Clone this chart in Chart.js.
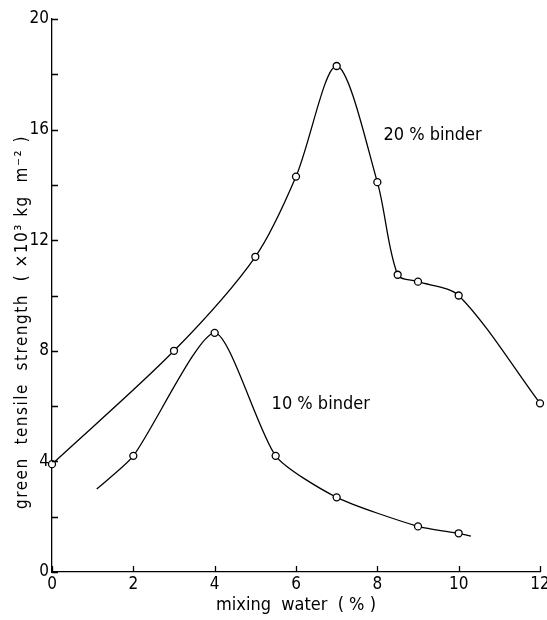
<!DOCTYPE html>
<html>
<head>
<meta charset="utf-8">
<script src="https://cdn.jsdelivr.net/npm/chart.js@4.4.0/dist/chart.umd.min.js"></script>
<style>
    html, body { margin: 0; padding: 0; background: #fff; }
    #wrap { width: 547px; height: 620px; }
</style>
</head>
<body>
<div id="wrap"><canvas id="realtimeChart" width="547" height="620"></canvas></div>
<script>
// 20 % binder
const water20 = [0, 3, 5, 6, 7, 8, 8.5, 9, 10, 12];
const strength20 = [3.9, 8.0, 11.4, 14.3, 18.3, 14.1, 10.75, 10.5, 10.0, 6.1];
// 10 % binder (first/last are only the curve ends, no marker)
const water10 = [1.1, 2, 4, 5.5, 7, 9, 10, 10.3];
const strength10 = [3.0, 4.2, 8.65, 4.2, 2.7, 1.65, 1.4, 1.3];
const marker10 = [false, true, true, true, true, true, true, false];

const xTicks = [0, 2, 4, 6, 8, 10, 12];
const yLabelled = [0, 4, 8, 12, 16, 20];

const FONT = "'Liberation Sans Narrow', 'DejaVu Sans Condensed', 'Liberation Sans', sans-serif";

function toPoints(xs, ys) {
    return xs.map((x, i) => ({ x: x, y: ys[i] }));
}

// inward tick marks + texts that chart.js does not place by itself
const paperPlugin = {
    id: 'paper',
    afterDraw(chart) {
        const c = chart.ctx;
        const xs = chart.scales.x, ys = chart.scales.y;
        const area = chart.chartArea;
        c.save();
        c.strokeStyle = '#000';
        c.lineWidth = 1.3;
        c.beginPath();
        for (let v = 0; v <= 20; v += 2) {
            const py = Math.round(ys.getPixelForValue(v)) + 0.5;
            c.moveTo(area.left, py);
            c.lineTo(area.left + 6, py);
        }
        xTicks.forEach(v => {
            const px = Math.round(xs.getPixelForValue(v)) + 0.5;
            c.moveTo(px, area.bottom);
            c.lineTo(px, area.bottom - 6);
        });
        c.stroke();

        c.fillStyle = '#000';
        c.font = "18px " + FONT;
        c.textBaseline = 'middle';
        c.textAlign = 'left';
        c.fillText('20 % binder', xs.getPixelForValue(8.15), ys.getPixelForValue(15.8));
        c.fillText('10 % binder', xs.getPixelForValue(5.4), ys.getPixelForValue(6.05));

        // y title
        c.font = "17px " + FONT;
        c.translate(23, 322);
        c.rotate(-Math.PI / 2);
        c.textAlign = 'center';
        c.letterSpacing = '1.5px';
        c.fillText('green  tensile  strength  ( \u00d710\u00b3 kg  m\u207b\u00b2 )', 0, 0);
        c.restore();
    }
};

const lineStyle = {
    showLine: true,
    borderColor: '#000',
    borderWidth: 1.3,
    backgroundColor: 'rgba(0,0,0,0)',
    pointBorderWidth: 1.3,
    pointBorderColor: '#000',
    pointBackgroundColor: '#fff',
    clip: false
};

const ctx = document.getElementById('realtimeChart').getContext('2d');
const chart = new Chart(ctx, {
    type: 'scatter',
    data: {
        datasets: [
            Object.assign({ label: '20 % binder', data: toPoints(water20, strength20), pointRadius: 3.5, tension: 0.3 }, lineStyle),
            Object.assign({ label: '10 % binder', data: toPoints(water10, strength10), pointRadius: marker10.map(m => m ? 3.5 : 0), tension: 0.22 }, lineStyle)
        ]
    },
    options: {
        responsive: false,
        animation: false,
        layout: { padding: { top: 19, right: 7, left: 0, bottom: 0 } },
        plugins: {
            legend: { display: false },
            tooltip: { enabled: false }
        },
        scales: {
            x: {
                type: 'linear',
                min: 0, max: 12,
                afterFit: s => { s.height = 48; s.paddingLeft = 0; s.paddingRight = 0; },
                afterBuildTicks: s => { s.ticks = xTicks.map(v => ({ value: v })); },
                ticks: { color: '#000', font: { family: FONT, size: 17 }, padding: 2, maxRotation: 0 },
                grid: { display: false, drawTicks: false },
                border: { color: '#000', width: 1.3 },
                title: { display: true, text: 'mixing  water  ( % )', color: '#000', font: { family: FONT, size: 18 }, padding: { top: 0 } }
            },
            y: {
                type: 'linear',
                min: 0, max: 20,
                afterFit: s => { s.width = 52; s.paddingTop = 0; s.paddingBottom = 0; },
                afterBuildTicks: s => { s.ticks = yLabelled.map(v => ({ value: v })); },
                ticks: { color: '#000', font: { family: FONT, size: 17 }, padding: 3 },
                grid: { display: false, drawTicks: false },
                border: { color: '#000', width: 1.3 }
            }
        }
    },
    plugins: [paperPlugin]
});
</script>
</body>
</html>
